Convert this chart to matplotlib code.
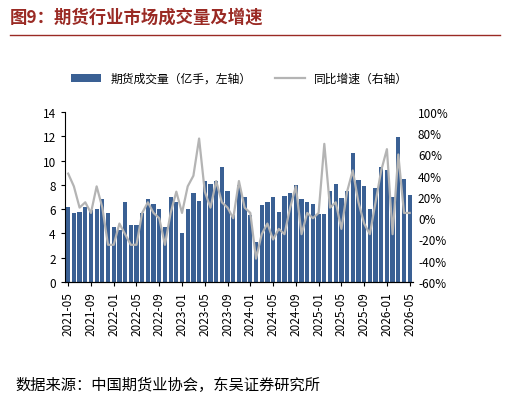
import pandas as pd
import matplotlib.pyplot as plt

plt.rcParams['font.family'] = ['Noto Sans CJK SC', 'DejaVu Sans']

months = pd.date_range('2021-05-01', '2026-05-01', freq='MS').strftime('%Y-%m').tolist()
volume = [6.2, 5.7, 5.8, 6.2, 5.9, 6.0, 6.8, 5.7, 4.5, 4.3,
          6.6, 4.7, 4.7, 5.7, 6.8, 6.4, 6.0, 4.5, 7.0, 6.6,
          4.0, 6.0, 7.3, 6.7, 8.3, 8.1, 8.3, 9.5, 7.5, 5.5,
          8.0, 7.0, 5.5, 3.3, 6.3, 6.6, 7.0, 5.8, 7.1, 7.3,
          8.0, 6.8, 6.6, 6.4, 5.6, 5.6, 7.5, 8.1, 6.9, 7.5,
          10.6, 8.4, 7.9, 6.0, 7.7, 9.5, 9.2, 7.0, 11.9, 8.5, 7.2]
growth = [42, 30, 10, 15, 5, 30, 10, -25, -25, -5,
          -15, -25, -25, 5, 15, 5, 0, -25, 5, 25,
          5, 30, 40, 75, 25, 10, 35, 15, 10, 0,
          35, 10, 5, -38, -15, -5, -20, -10, -15, 10,
          30, -15, 5, 0, 5, 70, 10, 15, -10, 25,
          45, 15, -5, -15, 15, 45, 65, -15, 60, 5, 5]

fig = plt.figure(figsize=(5.10, 4.02), dpi=100)
ax = fig.add_axes([0.127, 0.296, 0.683, 0.423])
x = range(len(months))
b = ax.bar(x, volume, width=0.75, color='#3A6094', label='期货成交量（亿手，左轴）')
ax.set_ylim(0, 14)
ax.set_yticks(range(0, 15, 2))
ax.set_xlim(-0.6, len(months) - 0.4)
ax.set_xticks(list(x)[::4])
ax.set_xticklabels(months[::4], rotation=90, fontsize=8)
ax.tick_params(labelsize=8.5, direction='out', length=3)
for s in ['top', 'right']:
    ax.spines[s].set_visible(False)

ax2 = ax.twinx()
l, = ax2.plot(x, growth, color='#B4B4B4', lw=1.6, label='同比增速（右轴）')
ax2.set_ylim(-60, 100)
ax2.set_yticks(range(-60, 101, 20))
ax2.set_yticklabels([f'{v}%' for v in range(-60, 101, 20)])
ax2.tick_params(labelsize=8.5, length=0)
for s in ['top', 'right', 'left']:
    ax2.spines[s].set_visible(False)

fig.legend(handles=[b, l], loc='upper center', bbox_to_anchor=(0.47, 0.845), ncol=2,
           frameon=False, fontsize=8.5, handlelength=2.5, columnspacing=2)

fig.text(0.02, 0.955, '图9：期货行业市场成交量及增速', color='#9A2A24', fontsize=12.5,
         fontweight='bold', va='center')
fig.add_artist(plt.Line2D([0.02, 0.98], [0.91, 0.91], color='#9A2A24', lw=1))
fig.text(0.03, 0.04, '数据来源：中国期货业协会，东吴证券研究所', fontsize=11, va='center')

plt.savefig('out.png', dpi=100)
